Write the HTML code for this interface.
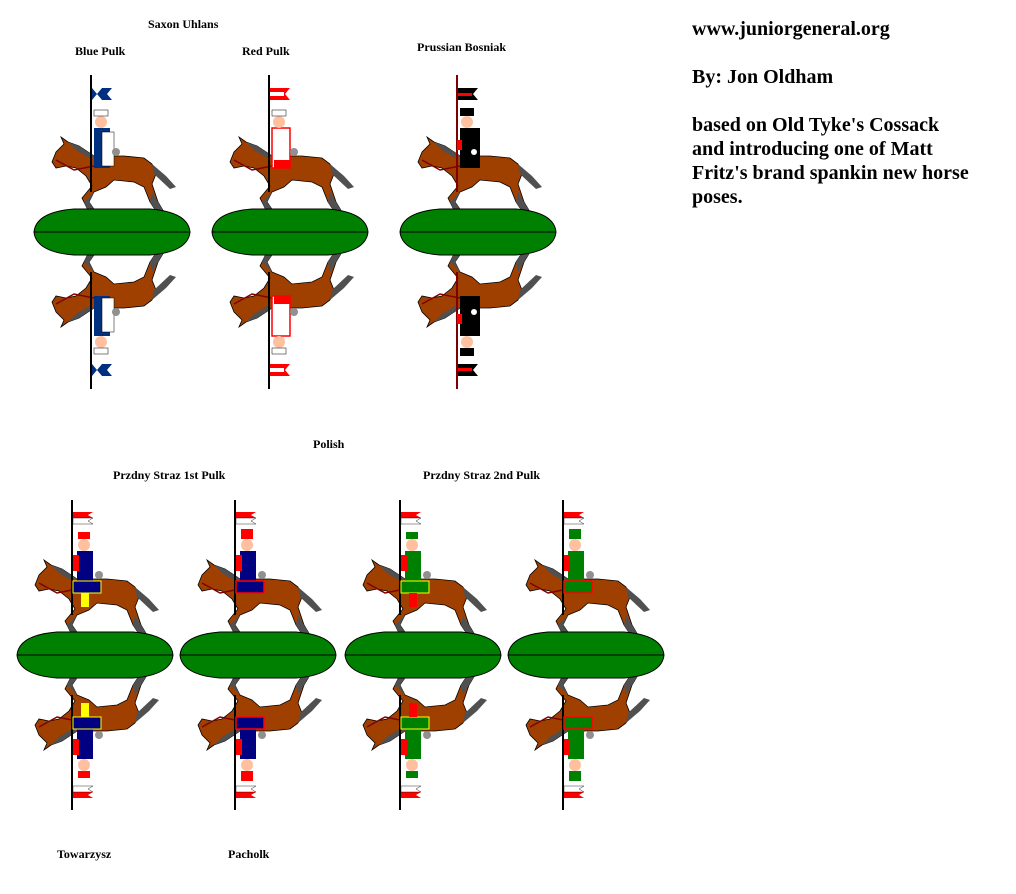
<!DOCTYPE html>
<html><head><meta charset="utf-8"><style>
body{margin:0;background:#fff;width:1016px;height:894px;overflow:hidden}
svg{position:absolute;left:0;top:0}
.t{font-family:"Liberation Serif",serif;font-weight:bold;font-size:12px}
.b{font-family:"Liberation Serif",serif;font-weight:bold;font-size:20px}
</style></head><body>
<svg width="1016" height="894" viewBox="0 0 1016 894">
<defs>
<g id="horse">
<path d="M18,-70 L22,-80 L30,-88 L27,-95 L34,-90 L45,-86 L60,-76 L90,-76 L110,-74 L118,-68 L122,-58 L118,-48 L124,-30 L130,-20 L124,-18 L116,-30 L110,-45 L100,-50 L80,-52 L72,-45 L60,-40 L55,-30 L62,-20 L56,-18 L48,-34 L58,-46 L52,-56 L42,-64 L32,-66 L22,-64 Z" fill="#a04000" stroke="#000" stroke-width="0.8"/>
<path d="M34,-90 L45,-86 L60,-76 L55,-74 L42,-82 Z" fill="#505050"/>
<path d="M118,-68 L132,-56 L142,-45 L136,-43 L120,-58 Z" fill="#505050"/>
<path d="M118,-40 L124,-30 L130,-20 L124,-18 L116,-30 Z M60,-40 L55,-30 L62,-20 L56,-18 L50,-30 Z" fill="#505050"/>
<path d="M22,-72 L40,-62 L60,-66" stroke="#800000" stroke-width="1.5" fill="none"/>
</g>
<g id="rider-blue"><use href="#horse"/>
<line x1="57" y1="-157" x2="57" y2="-40" stroke="#000" stroke-width="2"/>
<path d="M58,-144 h20 l-5,6 5,6 h-20 z" fill="#003080"/><path d="M58,-144 l10,12 h-10 z M58,-132 l10,-12 h-10z" fill="#fff"/>
<rect x="60" y="-104" width="16" height="40" fill="#003080"/><rect x="68" y="-100" width="12" height="34" fill="#fff" stroke="#000" stroke-width=".5"/>
<rect x="64" y="-64" width="8" height="18" fill="#a04000"/>
<circle cx="67" cy="-110" r="6" fill="#ffc0a0"/><rect x="60" y="-122" width="14" height="6" fill="#fff" stroke="#000" stroke-width=".5"/>
<circle cx="82" cy="-80" r="4" fill="#909090"/></g>
<g id="rider-red"><use href="#horse"/>
<line x1="57" y1="-157" x2="57" y2="-40" stroke="#000" stroke-width="2"/>
<path d="M58,-144 h20 l-5,6 5,6 h-20 z" fill="#f00"/><rect x="58" y="-140" width="14" height="4" fill="#fff"/>
<rect x="60" y="-104" width="18" height="40" fill="#fff" stroke="#f00" stroke-width="1.5"/><rect x="62" y="-72" width="16" height="8" fill="#f00"/>
<circle cx="67" cy="-110" r="6" fill="#ffc0a0"/><rect x="60" y="-122" width="14" height="6" fill="#fff" stroke="#000" stroke-width=".5"/>
<circle cx="82" cy="-80" r="4" fill="#909090"/></g>
<g id="rider-black"><use href="#horse"/>
<line x1="57" y1="-157" x2="57" y2="-40" stroke="#800000" stroke-width="2"/>
<path d="M58,-144 h20 l-5,6 5,6 h-20 z" fill="#000"/><rect x="58" y="-139" width="14" height="3" fill="#f00"/>
<rect x="60" y="-104" width="20" height="40" fill="#000"/><rect x="57" y="-92" width="5" height="10" fill="#f00"/>
<circle cx="67" cy="-110" r="6" fill="#ffc0a0"/><rect x="60" y="-124" width="14" height="8" fill="#000"/>
<circle cx="74" cy="-80" r="3" fill="#fff"/></g>
<g id="pol-blue"><use href="#horse"/>
<line x1="55" y1="-155" x2="55" y2="-40" stroke="#000" stroke-width="2"/>
<path d="M56,-143 h20 l-5,3 5,3 h-20 z" fill="#f00"/><path d="M56,-137 h20 l-5,3 5,3 h-20 z" fill="#fff" stroke="#000" stroke-width=".4"/>
<rect x="60" y="-104" width="16" height="40" fill="#000080"/><rect x="56" y="-100" width="6" height="16" fill="#f00"/>
<rect x="56" y="-74" width="28" height="12" fill="#000080" stroke="#ff0" stroke-width="1"/>
<rect x="64" y="-62" width="8" height="14" fill="#ff0"/>
<circle cx="67" cy="-110" r="6" fill="#ffc0a0"/><rect x="61" y="-123" width="12" height="7" fill="#f00"/>
<circle cx="82" cy="-80" r="4" fill="#909090"/></g>
<g id="pol-red"><use href="#horse"/>
<line x1="55" y1="-155" x2="55" y2="-40" stroke="#000" stroke-width="2"/>
<path d="M56,-143 h20 l-5,3 5,3 h-20 z" fill="#f00"/><path d="M56,-137 h20 l-5,3 5,3 h-20 z" fill="#fff" stroke="#000" stroke-width=".4"/>
<rect x="60" y="-104" width="16" height="40" fill="#000080"/><rect x="56" y="-100" width="6" height="16" fill="#f00"/>
<rect x="56" y="-74" width="28" height="12" fill="#000080" stroke="#f00" stroke-width="1.5"/>
<circle cx="67" cy="-110" r="6" fill="#ffc0a0"/><rect x="61" y="-126" width="12" height="10" fill="#f00"/>
<circle cx="82" cy="-80" r="4" fill="#909090"/></g>
<g id="pol-green"><use href="#horse"/>
<line x1="55" y1="-155" x2="55" y2="-40" stroke="#000" stroke-width="2"/>
<path d="M56,-143 h20 l-5,3 5,3 h-20 z" fill="#f00"/><path d="M56,-137 h20 l-5,3 5,3 h-20 z" fill="#fff" stroke="#000" stroke-width=".4"/>
<rect x="60" y="-104" width="16" height="40" fill="#008000"/><rect x="56" y="-100" width="6" height="16" fill="#f00"/>
<rect x="56" y="-74" width="28" height="12" fill="#008000" stroke="#ff0" stroke-width="1"/>
<rect x="64" y="-62" width="8" height="14" fill="#f00"/>
<circle cx="67" cy="-110" r="6" fill="#ffc0a0"/><rect x="61" y="-123" width="12" height="7" fill="#008000"/>
<circle cx="82" cy="-80" r="4" fill="#909090"/></g>
<g id="pol-green2"><use href="#horse"/>
<line x1="55" y1="-155" x2="55" y2="-40" stroke="#000" stroke-width="2"/>
<path d="M56,-143 h20 l-5,3 5,3 h-20 z" fill="#f00"/><path d="M56,-137 h20 l-5,3 5,3 h-20 z" fill="#fff" stroke="#000" stroke-width=".4"/>
<rect x="60" y="-104" width="16" height="40" fill="#008000"/><rect x="56" y="-100" width="6" height="16" fill="#f00"/>
<rect x="56" y="-74" width="28" height="12" fill="#008000" stroke="#f00" stroke-width="1.5"/>
<circle cx="67" cy="-110" r="6" fill="#ffc0a0"/><rect x="61" y="-126" width="12" height="10" fill="#008000"/>
<circle cx="82" cy="-80" r="4" fill="#909090"/></g>
<g id="base"><path d="M0,0 Q2,-20 40,-23 H116 Q154,-20 156,0 Q154,20 116,23 H40 Q2,20 0,0 Z" fill="#008000" stroke="#000"/><line x1="0" y1="0" x2="156" y2="0" stroke="#000"/></g>
</defs>

<g transform="translate(34,232)"><use href="#rider-blue"/><use href="#rider-blue" transform="scale(1,-1)"/><use href="#base"/></g>
<g transform="translate(212,232)"><use href="#rider-red"/><use href="#rider-red" transform="scale(1,-1)"/><use href="#base"/></g>
<g transform="translate(400,232)"><use href="#rider-black"/><use href="#rider-black" transform="scale(1,-1)"/><use href="#base"/></g>

<g transform="translate(17,655)"><use href="#pol-blue"/><use href="#pol-blue" transform="scale(1,-1)"/><use href="#base"/></g>
<g transform="translate(180,655)"><use href="#pol-red"/><use href="#pol-red" transform="scale(1,-1)"/><use href="#base"/></g>
<g transform="translate(345,655)"><use href="#pol-green"/><use href="#pol-green" transform="scale(1,-1)"/><use href="#base"/></g>
<g transform="translate(508,655)"><use href="#pol-green2"/><use href="#pol-green2" transform="scale(1,-1)"/><use href="#base"/></g>

<text class="t" x="148" y="28">Saxon Uhlans</text>
<text class="t" x="75" y="55">Blue Pulk</text>
<text class="t" x="242" y="55">Red Pulk</text>
<text class="t" x="417" y="51">Prussian Bosniak</text>
<text class="t" x="313" y="448">Polish</text>
<text class="t" x="113" y="479">Przdny Straz 1st Pulk</text>
<text class="t" x="423" y="479">Przdny Straz 2nd Pulk</text>
<text class="t" x="57" y="858">Towarzysz</text>
<text class="t" x="228" y="858">Pacholk</text>
<text class="b" x="692" y="35">www.juniorgeneral.org</text>
<text class="b" x="692" y="83">By: Jon Oldham</text>
<text class="b" x="692" y="131">based on Old Tyke's Cossack</text>
<text class="b" x="692" y="155">and introducing one of Matt</text>
<text class="b" x="692" y="179">Fritz's brand spankin new horse</text>
<text class="b" x="692" y="203">poses.</text>
</svg>
</body></html>
